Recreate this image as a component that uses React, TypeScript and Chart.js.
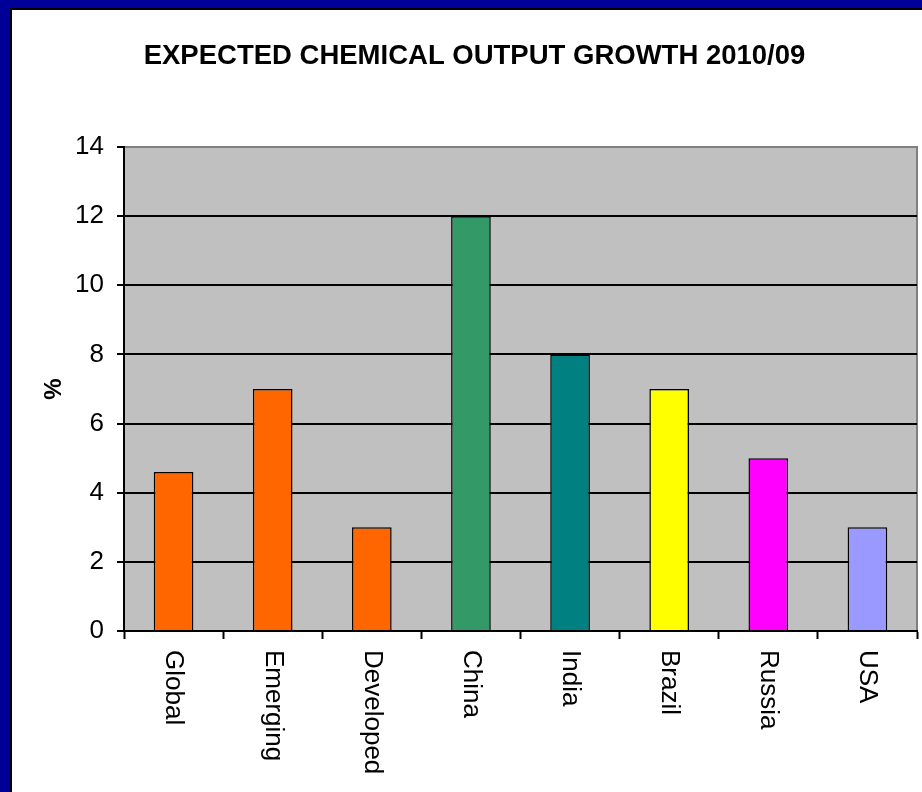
import React, { useEffect, useRef } from "react";
import { Chart, registerables } from "chart.js";

Chart.register(...registerables);

const titleText = "EXPECTED CHEMICAL OUTPUT GROWTH 2010/09";
const yAxisTitle = "%";
const categories = ["Global", "Emerging", "Developed", "China", "India", "Brazil", "Russia", "USA"];
const values = [4.6, 7, 3, 12, 8, 7, 5, 3];
const barColors = ["#FF6600", "#FF6600", "#FF6600", "#339966", "#008080", "#FFFF00", "#FF00FF", "#9999FF"];
const yMin = 0;
const yMax = 14;
const yStep = 2;

const FONT = '"Liberation Sans", Arial, sans-serif';

const plotBackground = {
  id: "plotBackground",
  beforeDraw(chart: any) {
    const { ctx, chartArea } = chart;
    if (!chartArea) return;
    ctx.save();
    ctx.fillStyle = "#C0C0C0";
    ctx.fillRect(chartArea.left, chartArea.top, chartArea.right - chartArea.left, chartArea.bottom - chartArea.top);
    ctx.strokeStyle = "#808080";
    ctx.lineWidth = 2;
    ctx.strokeRect(chartArea.left, chartArea.top, chartArea.right - chartArea.left, chartArea.bottom - chartArea.top);
    ctx.restore();
  },
};

const rotatedXLabels = {
  id: "rotatedXLabels",
  afterDraw(chart: any) {
    const { ctx, chartArea } = chart;
    const x = chart.scales.x;
    ctx.save();
    ctx.font = `26px ${FONT}`;
    ctx.fillStyle = "#000";
    categories.forEach((c, i) => {
      const px = x.getPixelForValue(i);
      ctx.save();
      ctx.translate(px, chartArea.bottom + 19);
      ctx.rotate(Math.PI / 2);
      ctx.textAlign = "left";
      ctx.textBaseline = "middle";
      ctx.fillText(c, 0, 0);
      ctx.restore();
    });
    ctx.restore();
  },
};

export default function App() {
  const canvasRef = useRef<HTMLCanvasElement | null>(null);

  useEffect(() => {
    if (!canvasRef.current) return;
    Chart.defaults.color = "#000";
    const chart = new Chart(canvasRef.current, {
      type: "bar",
      data: {
        labels: categories,
        datasets: [
          {
            data: values,
            backgroundColor: barColors,
            borderColor: "#000",
            borderWidth: 1.5,
            barPercentage: 0.4,
            categoryPercentage: 1,
          },
        ],
      },
      options: {
        animation: false,
        responsive: true,
        maintainAspectRatio: false,
        layout: { padding: { left: 20, right: 5, top: 0, bottom: 0 } },
        plugins: {
          legend: { display: false },
          tooltip: { enabled: false },
          title: {
            display: true,
            text: titleText,
            color: "#000",
            font: { family: FONT, size: 27.5, weight: "bold" },
            padding: { top: 29.5, bottom: 74.5 },
          },
        },
        scales: {
          x: {
            offset: true,
            grid: {
              display: true,
              drawOnChartArea: false,
              drawTicks: true,
              tickLength: 8,
              tickColor: "#000",
              tickWidth: 2,
              offset: true,
            },
            border: { display: true, color: "#000", width: 2 },
            ticks: { display: false },
            afterFit(scale: any) {
              scale.height = 161;
            },
          },
          y: {
            min: yMin,
            max: yMax,
            ticks: {
              stepSize: yStep,
              color: "#000",
              font: { family: FONT, size: 26 },
              padding: 13,
            },
            grid: {
              color: (ctx: any) => (ctx.tick && ctx.tick.value === yMax ? "#808080" : "#000"),
              lineWidth: 2,
              tickLength: 7,
              tickColor: "#000",
              tickWidth: 2,
            },
            border: { display: true, color: "#000", width: 2 },
            title: {
              display: true,
              text: yAxisTitle,
              color: "#000",
              font: { family: FONT, size: 24, weight: "bold" },
              padding: { top: 7.6, bottom: 0 },
            },
            afterFit(scale: any) {
              scale.width = 92;
            },
          },
        },
      },
      plugins: [plotBackground, rotatedXLabels],
    });
    return () => chart.destroy();
  }, []);

  return (
    <div
      style={{
        position: "absolute",
        left: 0,
        top: 0,
        width: 922,
        height: 792,
        background: "#000099",
        overflow: "hidden",
      }}
    >
      <div
        style={{
          position: "absolute",
          left: 10,
          top: 8,
          width: 910,
          height: 782,
          borderLeft: "2px solid #000",
          borderTop: "2px solid #000",
          background: "#fff",
        }}
      >
        <div style={{ position: "relative", width: 910, height: 782 }}>
          <canvas ref={canvasRef} />
        </div>
      </div>
    </div>
  );
}
